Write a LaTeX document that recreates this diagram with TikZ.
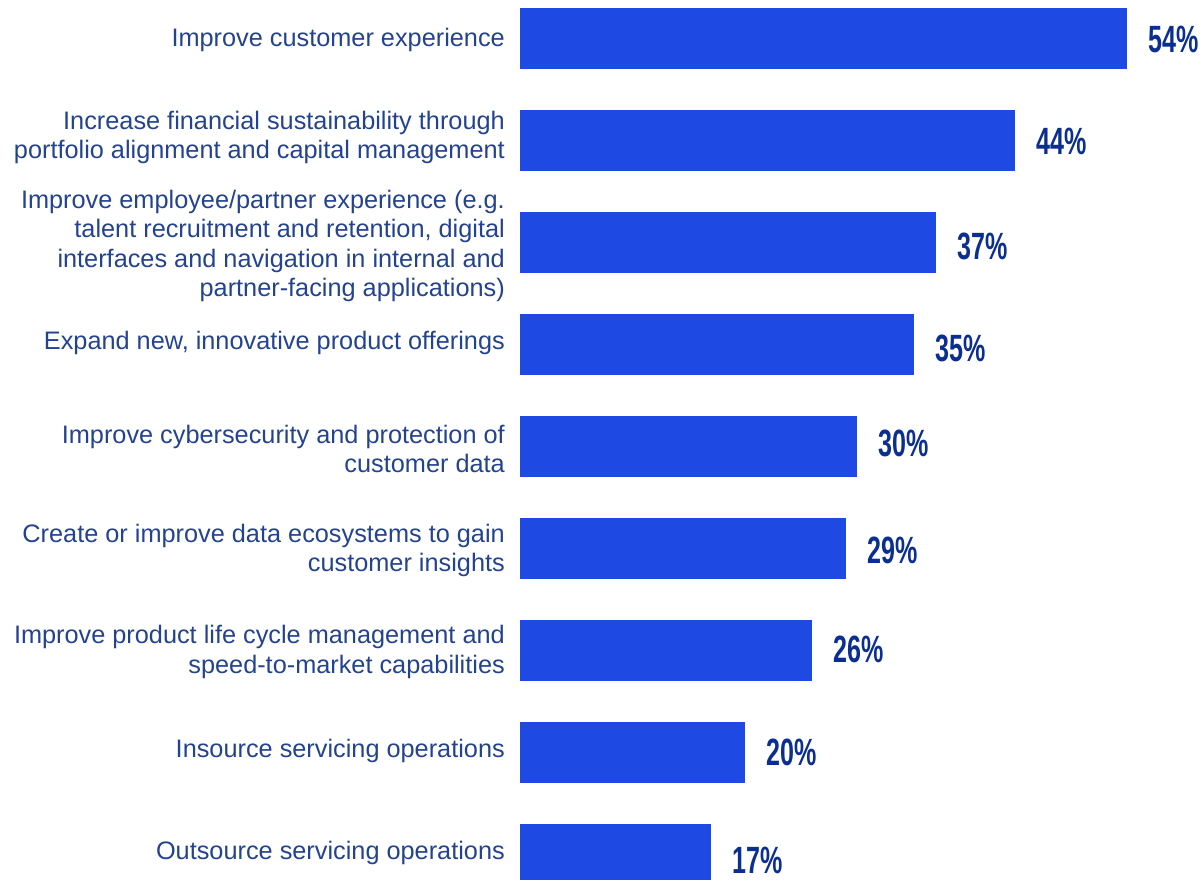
\documentclass[tikz,border=0pt]{standalone}
\usepackage{fontspec}
\usepackage{graphicx}
\setmainfont{Liberation Sans}
\definecolor{barblue}{HTML}{1E49E2}
\definecolor{labelblue}{HTML}{24438F}
\definecolor{pctblue}{HTML}{0B2F90}
\tikzset{
  bar/.style={fill=barblue, draw=none, inner sep=0pt, minimum height=61pt, anchor=west},
  lbl/.style={anchor=east, align=right, text=labelblue, inner sep=0pt,
    font=\fontsize{25.3}{29.5}\selectfont},
  pct/.style={anchor=west, text=pctblue, inner sep=0pt,
    font=\fontsize{38}{38}\selectfont\bfseries}
}
\newcommand{\pcttext}[1]{\scalebox{0.66}[1]{#1}}
\begin{document}
\begin{tikzpicture}[x=1pt,y=-1pt]
\useasboundingbox (0,0) rectangle (1203,880);
% bars: scale 11.24 px per percent, start x=520
\node[bar, minimum width=607pt] (b1) at (520,38.5) {};
\node[bar, minimum width=495pt] (b2) at (520,140.5) {};
\node[bar, minimum width=416pt] (b3) at (520,242.5) {};
\node[bar, minimum width=394pt] (b4) at (520,344.5) {};
\node[bar, minimum width=337pt] (b5) at (520,446.5) {};
\node[bar, minimum width=326pt] (b6) at (520,548.5) {};
\node[bar, minimum width=292pt] (b7) at (520,650.5) {};
\node[bar, minimum width=225pt] (b8) at (520,752.5) {};
\node[bar, minimum width=191pt] (b9) at (520,854.5) {};
% percentages
\node[pct] (p1) at ([xshift=21pt]b1.east |- 0,39) {\pcttext{54\%}};
\node[pct] (p2) at ([xshift=21pt]b2.east |- 0,141) {\pcttext{44\%}};
\node[pct] (p3) at ([xshift=21pt]b3.east |- 0,246) {\pcttext{37\%}};
\node[pct] (p4) at ([xshift=21pt]b4.east |- 0,348) {\pcttext{35\%}};
\node[pct] (p5) at ([xshift=21pt]b5.east |- 0,443) {\pcttext{30\%}};
\node[pct] (p6) at ([xshift=21pt]b6.east |- 0,550) {\pcttext{29\%}};
\node[pct] (p7) at ([xshift=21pt]b7.east |- 0,649) {\pcttext{26\%}};
\node[pct] (p8) at ([xshift=21pt]b8.east |- 0,752) {\pcttext{20\%}};
\node[pct] (p9) at ([xshift=21pt]b9.east |- 0,860) {\pcttext{17\%}};
% labels
\node[lbl] (l1) at (505,40) {Improve customer experience};
\node[lbl] (l2) at (505,137.5) {Increase financial sustainability through\\portfolio alignment and capital management};
\node[lbl] (l3) at (505,246) {Improve employee/partner experience (e.g.\\talent recruitment and retention, digital\\interfaces and navigation in internal and\\partner-facing applications)};
\node[lbl] (l4) at (505,343) {Expand new, innovative product offerings};
\node[lbl] (l5) at (505,449) {Improve cybersecurity and protection of\\customer data};
\node[lbl] (l6) at (505,550.5) {Create or improve data ecosystems to gain\\customer insights};
\node[lbl] (l7) at (505,652) {Improve product life cycle management and\\speed-to-market capabilities};
\node[lbl] (l8) at (505,751) {Insource servicing operations};
\node[lbl] (l9) at (505,853) {Outsource servicing operations};
\end{tikzpicture}
\end{document}
